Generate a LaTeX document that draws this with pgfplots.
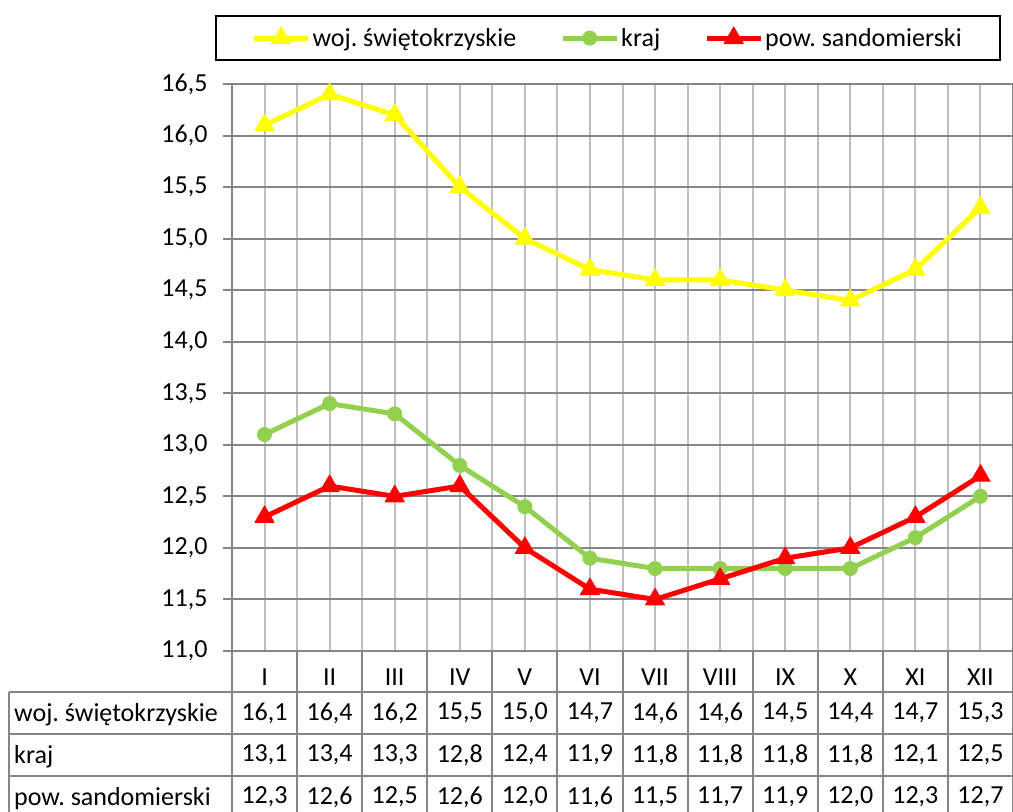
\documentclass[border=0pt]{standalone}
\usepackage{pgfplots}
\pgfplotsset{compat=1.18}
\usepackage{pgfplotstable}
\usepackage{fontspec}
\setmainfont{Carlito}
\frenchspacing

\definecolor{wojc}{HTML}{FFFF00}
\definecolor{krajc}{HTML}{92D050}
\definecolor{powc}{HTML}{FF0000}
\definecolor{gridv}{HTML}{BFBFBF}
\definecolor{gridh}{HTML}{868686}

% miesiac, woj. swietokrzyskie, kraj, pow. sandomierski
\pgfplotstableread{
x  woj   kraj  pow
1  16.1  13.1  12.3
2  16.4  13.4  12.6
3  16.2  13.3  12.5
4  15.5  12.8  12.6
5  15.0  12.4  12.0
6  14.7  11.9  11.6
7  14.6  11.8  11.5
8  14.6  11.8  11.7
9  14.5  11.8  11.9
10 14.4  11.8  12.0
11 14.7  12.1  12.3
12 15.3  12.5  12.7
}\data

\pgfplotsset{
  tablerow/.style={draw=none, mark=none, forget plot, nodes near coords,
    nodes near coords align={center},
    nodes near coords style={yshift=#1, text=black,
      /pgf/number format/.cd, fixed, fixed zerofill, precision=1, use comma}},
}

\begin{document}
\begin{tikzpicture}[x=1pt, y=1pt, font=\fontsize{26}{31}\selectfont]
\begin{axis}[
    scale only axis,
    width=781pt, height=567pt,
    xmin=0.5, xmax=12.5,
    ymin=11, ymax=16.5,
    clip=false,
    axis line style={gridh, line width=2pt},
    xtick={1,2,3,4,5,6,7,8,9,10,11,12},
    xticklabels={I,II,III,IV,V,VI,VII,VIII,IX,X,XI,XII},
    minor xtick={1.5,2.5,3.5,4.5,5.5,6.5,7.5,8.5,9.5,10.5,11.5},
    ytick={11,11.5,12,12.5,13,13.5,14,14.5,15,15.5,16,16.5},
    xmajorgrids, xminorgrids, ymajorgrids,
    major x grid style={gridv, line width=2pt},
    minor x grid style={gridv, line width=2pt},
    major y grid style={gridh, line width=2pt},
    xtick style={draw=none},
    ytick style={gridh, line width=2pt},
    ytick align=outside,
    major tick length=9pt,
    /pgf/number format/assume math mode=true,
    xticklabel style={anchor=center, yshift=-26pt},
    yticklabel style={xshift=-12pt, /pgf/number format/.cd, fixed, fixed zerofill, precision=1, use comma},
    legend columns=3,
    legend cell align=left,
    legend image code/.code={
      \draw[mark repeat=2, mark phase=2, #1] plot coordinates {(0pt,0pt) (27pt,0pt) (54pt,0pt)};},
    legend style={at={(0.481,1.081)}, anchor=center, draw=black, line width=2pt,
      inner xsep=36pt, inner ysep=10pt,
      /tikz/every even column/.append style={column sep=42pt}},
]
\addplot[wojc, line width=5pt, line join=round, mark=triangle*, mark size=11pt,
  mark options={solid, fill=wojc, draw=wojc, line width=1pt}]
  table[x=x, y=woj]{\data};
\addlegendentry{woj. świętokrzyskie}
\addplot[krajc, line width=5pt, line join=round, mark=*, mark size=7pt,
  mark options={solid, fill=krajc, draw=krajc, line width=1pt}]
  table[x=x, y=kraj]{\data};
\addlegendentry{kraj}
\addplot[powc, line width=5pt, line join=round, mark=triangle*, mark size=11pt,
  mark options={solid, fill=powc, draw=powc, line width=1pt}]
  table[x=x, y=pow]{\data};
\addlegendentry{pow. sandomierski}

% tabela danych pod wykresem
\addplot[tablerow=-62pt, point meta=\thisrow{woj}] table[x=x, y expr=11]{\data};
\addplot[tablerow=-104pt, point meta=\thisrow{kraj}] table[x=x, y expr=11]{\data};
\addplot[tablerow=-146pt, point meta=\thisrow{pow}] table[x=x, y expr=11]{\data};
\end{axis}

\begin{scope}[gridh, line width=2pt]
  \foreach \k in {0,...,12}
    \draw ({65.0833*\k},0) -- ({65.0833*\k},-175);
  \foreach \yy in {-41,-83,-125,-167}
    \draw (-223,\yy) -- (781,\yy);
  \draw (-223,-41) -- (-223,-175);
\end{scope}
\node[anchor=base west, inner sep=0pt] at (-218,-70) {woj. świętokrzyskie};
\node[anchor=base west, inner sep=0pt] at (-218,-112) {kraj};
\node[anchor=base west, inner sep=0pt] at (-218,-154) {pow. sandomierski};

\pgfresetboundingbox
\path[use as bounding box] (-232,-161) rectangle (781,651);
\end{tikzpicture}
\end{document}
